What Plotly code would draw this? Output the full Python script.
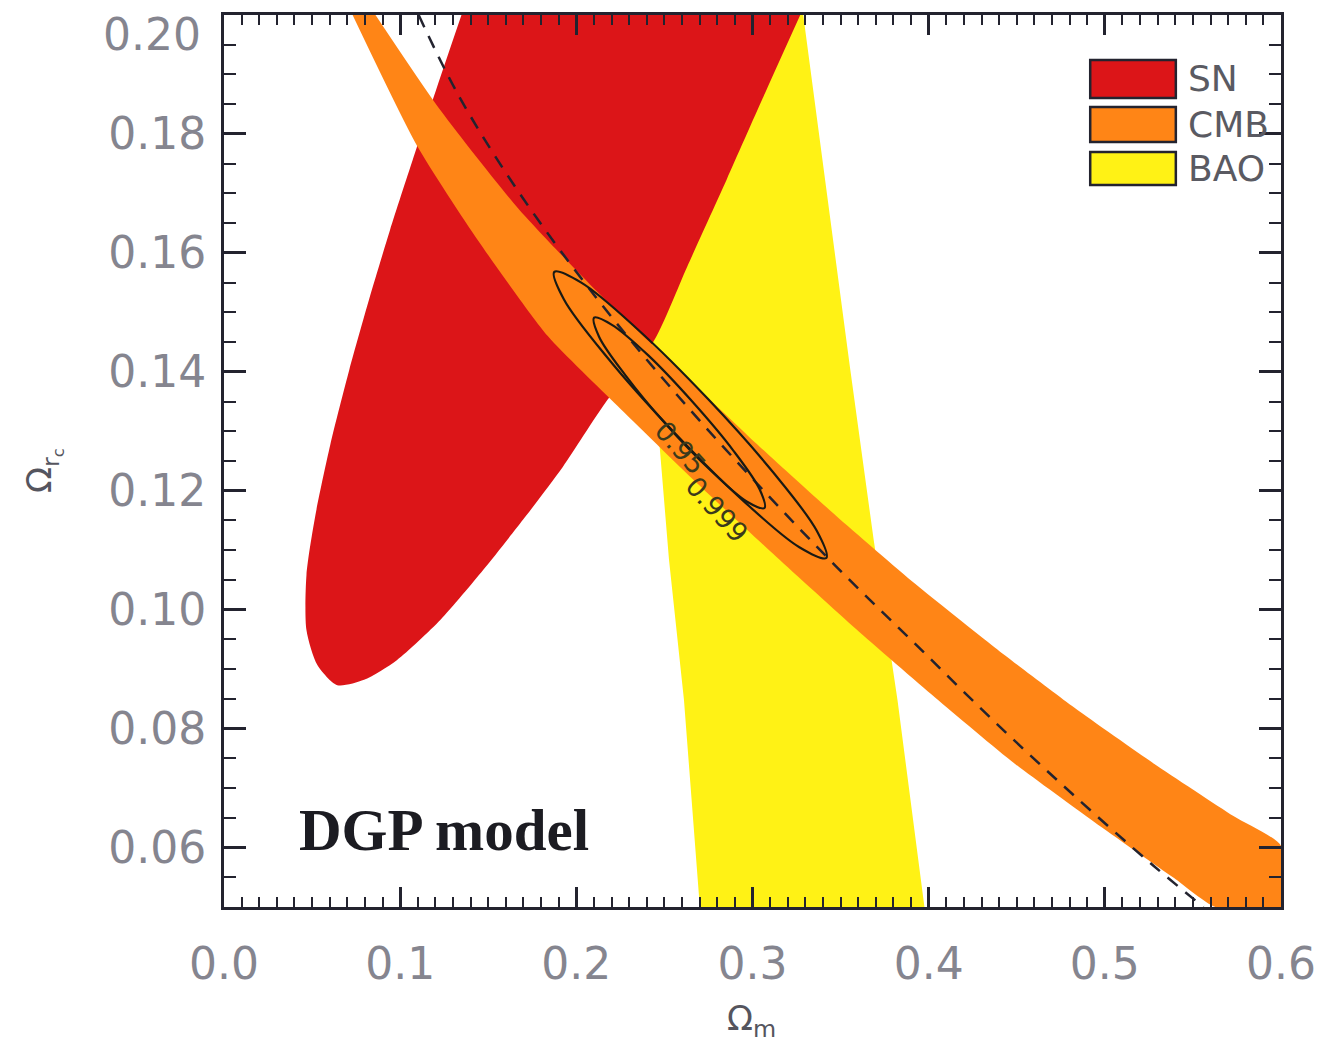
import plotly.graph_objects as go

# ---- constraint regions in the (Omega_m, Omega_rc) plane ----
# SN (supernovae) allowed region outline
sn_om = [0.1348, 0.1207, 0.1071, 0.0942, 0.0823, 0.0711, 0.0603, 0.0519, 0.0468, 0.0468,
         0.0530, 0.0643, 0.0795, 0.0981, 0.1229, 0.1472, 0.1697, 0.1923, 0.2165, 0.2442,
         0.2628, 0.2853, 0.3079, 0.3271]
sn_orc = [0.2, 0.1877, 0.1756, 0.1638, 0.1521, 0.1403, 0.1277, 0.1159, 0.1058, 0.0966,
          0.0907, 0.0873, 0.0882, 0.0915, 0.0983, 0.1067, 0.1151, 0.1240, 0.1348, 0.1453,
          0.1576, 0.1723, 0.1874, 0.2]

# CMB shift-parameter band: upper and lower edges
cmb_up_om = [0.086, 0.1218, 0.1669, 0.2121, 0.2572, 0.3023, 0.3474, 0.3925, 0.4377,
             0.4828, 0.5279, 0.5730, 0.6]
cmb_up_orc = [0.2, 0.1844, 0.1675, 0.1534, 0.1406, 0.1279, 0.1158, 0.1043, 0.0936,
              0.0835, 0.0741, 0.0653, 0.0603]
cmb_lo_om = [0.073, 0.1094, 0.1444, 0.1838, 0.2233, 0.2684, 0.3135, 0.3586, 0.4038,
             0.4489, 0.4940, 0.5391, 0.5628]
cmb_lo_orc = [0.2, 0.1781, 0.1620, 0.1460, 0.1343, 0.1213, 0.1089, 0.0968, 0.0852,
              0.0741, 0.0643, 0.0549, 0.05]

# BAO band outline
bao_om = [0.2278, 0.3288, 0.3553, 0.3688, 0.3823, 0.3976, 0.2701, 0.2611, 0.2526, 0.2470]
bao_orc = [0.2, 0.2, 0.1408, 0.1117, 0.0848, 0.05, 0.05, 0.0848, 0.1084, 0.1285]

# flat-universe relation (dashed curve)
flat_om = [0.1105, 0.1331, 0.1669, 0.2120, 0.2572, 0.3023, 0.3474, 0.3925, 0.4376,
           0.4827, 0.5278, 0.5560]
flat_orc = [0.2, 0.1865, 0.1704, 0.1522, 0.1361, 0.1213, 0.1073, 0.0942, 0.0811,
            0.0687, 0.0569, 0.05]

# combined-likelihood contours
c999_om = [0.3419, 0.3364, 0.3117, 0.2745, 0.2346, 0.2028, 0.1875, 0.1929, 0.2176,
           0.2549, 0.2948, 0.3266]
c999_orc = [0.1087, 0.1133, 0.1231, 0.1355, 0.1472, 0.1550, 0.1568, 0.1522, 0.1424,
            0.1300, 0.1183, 0.1105]
c95_om = [0.3068, 0.3041, 0.2890, 0.2658, 0.2407, 0.2202, 0.2101, 0.2129, 0.2279,
          0.2511, 0.2763, 0.2967]
c95_orc = [0.1171, 0.1202, 0.1268, 0.1350, 0.1428, 0.1479, 0.1491, 0.1459, 0.1394,
           0.1311, 0.1234, 0.1182]

x_ticks = [0.0, 0.1, 0.2, 0.3, 0.4, 0.5, 0.6]
x_tick_text = ["0.0", "0.1", "0.2", "0.3", "0.4", "0.5", "0.6"]
y_ticks = [0.06, 0.08, 0.10, 0.12, 0.14, 0.16, 0.18, 0.20]
y_tick_text = ["0.06", "0.08", "0.10", "0.12", "0.14", "0.16", "0.18", "0.20"]

legend_names = ["SN", "CMB", "BAO"]

RED = "#dc1518"
ORANGE = "#ff8516"
YELLOW = "#fff215"
INK = "#23232f"
LABEL_GREY = "#85858f"

fig = go.Figure()

# BAO: straight-edged band
fig.add_trace(go.Scatter(x=bao_om, y=bao_orc, mode="lines",
                         fill="toself", fillcolor=YELLOW,
                         line=dict(width=0, color=YELLOW),
                         hoverinfo="skip", showlegend=False))
# SN: open smooth outline, fill closes it along the top frame
fig.add_trace(go.Scatter(x=sn_om, y=sn_orc, mode="lines",
                         fill="toself", fillcolor=RED,
                         line=dict(width=0, color=RED, shape="spline", smoothing=0.7),
                         hoverinfo="skip", showlegend=False))
# CMB: upper edge, bottom-right corner, lower edge back to the top
cmb_om = cmb_up_om + [0.6] + cmb_lo_om[::-1]
cmb_orc = cmb_up_orc + [0.05] + cmb_lo_orc[::-1]
fig.add_trace(go.Scatter(x=cmb_om, y=cmb_orc, mode="lines",
                         fill="toself", fillcolor=ORANGE,
                         line=dict(width=0, color=ORANGE, shape="spline", smoothing=0.6),
                         hoverinfo="skip", showlegend=False))

fig.add_trace(go.Scatter(x=flat_om, y=flat_orc, mode="lines",
                         line=dict(color=INK, width=2.5, dash="13px,10px", shape="spline"),
                         hoverinfo="skip", showlegend=False))

for cx, cy in ((c999_om, c999_orc), (c95_om, c95_orc)):
    fig.add_trace(go.Scatter(x=cx + cx[:1], y=cy + cy[:1], mode="lines",
                             line=dict(color="#1a1a14", width=2.2, shape="spline", smoothing=1.0),
                             hoverinfo="skip", showlegend=False))

# contour labels along the ellipses
fig.add_annotation(x=0.2588, y=0.1272, text="0.95", showarrow=False, textangle=48,
                   xanchor="center", yanchor="middle",
                   font=dict(family="DejaVu Sans", size=27, color="#3b3a1c"))
fig.add_annotation(x=0.2797, y=0.1168, text="0.999", showarrow=False, textangle=48,
                   xanchor="center", yanchor="middle",
                   font=dict(family="DejaVu Sans", size=27, color="#3b3a1c"))

# legend drawn as framed colour swatches
swatch_y = [(0.9070, 0.9496), (0.8576, 0.8969), (0.8094, 0.8464)]
for name, col, (y0, y1) in zip(legend_names, [RED, ORANGE, YELLOW], swatch_y):
    fig.add_shape(type="rect", xref="paper", yref="paper", x0=0.8195, x1=0.9005, y0=y0, y1=y1,
                  fillcolor=col, line=dict(color=INK, width=2.5))
    fig.add_annotation(xref="paper", yref="paper", x=0.9105, y=(y0 + y1) / 2, text=name,
                       xanchor="left", yanchor="middle", showarrow=False,
                       font=dict(family="DejaVu Sans", size=36, color="#5a5a62"))

fig.add_annotation(xref="paper", yref="paper", x=0.2077, y=0.0863, text="DGP model",
                   xanchor="center", yanchor="middle", showarrow=False,
                   font=dict(family="Liberation Serif", size=59, color="#1c1c22", weight="bold"))

# top y tick label sits just below the frame corner
fig.add_annotation(xref="paper", yref="paper", x=-0.0197, y=0.9776, text=y_tick_text[-1],
                   xanchor="right", yanchor="middle", showarrow=False,
                   font=dict(family="DejaVu Sans", size=44, color=LABEL_GREY))

# axis titles
fig.add_annotation(xref="paper", yref="paper", x=0.499, y=-0.1000, text="Ω<sub>m</sub>",
                   xanchor="center", yanchor="top", showarrow=False,
                   font=dict(family="DejaVu Sans", size=34, color="#55555e"))
fig.add_annotation(xref="paper", yref="paper", x=-0.171, y=0.489, text="Ω<sub>r<sub>c</sub></sub>",
                   xanchor="center", yanchor="middle", showarrow=False, textangle=-90,
                   font=dict(family="DejaVu Sans", size=34, color="#55555e"))

axis_common = dict(showline=True, linecolor=INK, linewidth=3, mirror="ticks", ticks="inside",
                   tickcolor=INK, tickwidth=2.5, showgrid=False, zeroline=False,
                   tickfont=dict(family="DejaVu Sans", size=44, color=LABEL_GREY))

fig.update_xaxes(range=[0, 0.6], tickvals=x_ticks, ticktext=x_tick_text, ticklen=20,
                 ticklabelstandoff=16,
                 minor=dict(dtick=0.01, ticklen=10, tickcolor=INK, tickwidth=2, ticks="inside"),
                 **axis_common)
fig.update_yaxes(range=[0.05, 0.2], tickvals=y_ticks[:-1], ticktext=y_tick_text[:-1], ticklen=22,
                 ticklabelstandoff=6,
                 minor=dict(dtick=0.005, ticklen=12, tickcolor=INK, tickwidth=2, ticks="inside"),
                 **axis_common)

fig.update_layout(width=1328, height=1044, margin=dict(l=224, r=40, t=15, b=137),
                  paper_bgcolor="white", plot_bgcolor="white", showlegend=False)

fig.write_html("out.html")
